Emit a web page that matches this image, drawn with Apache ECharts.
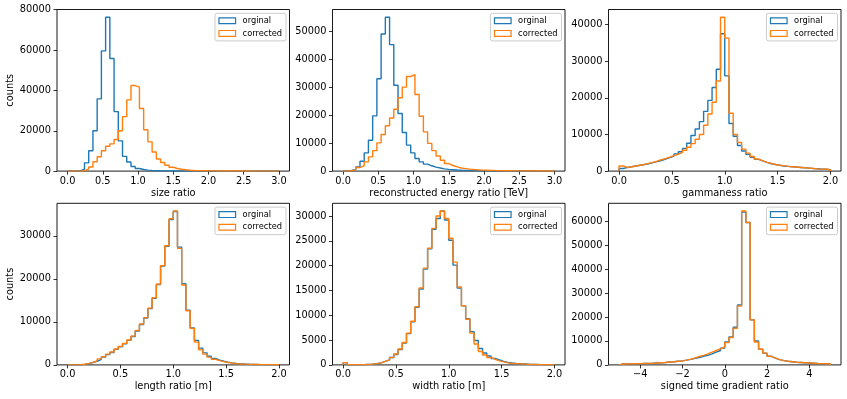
<!DOCTYPE html>
<html><head><meta charset="utf-8">
<script src="https://cdn.jsdelivr.net/npm/echarts@6/dist/echarts.min.js"></script>
<style>html,body{margin:0;padding:0;background:#fff}#c{width:847px;height:399px}</style>
</head><body><div id="c"></div>
<script>
const seriesNames = ['orginal', 'corrected'];
const seriesColors = ['#1f77b4', '#ff7f0e'];

// size ratio
const sizeRange = [0, 3];
const sizeOrig = [0,0,150,1000,4100,10100,20000,35800,59600,76300,55800,29500,15000,7300,4500,2300,1300,800,500,350,250,180,130,100,80,60,50,40,30,25,20,15,12,10,8,6,5,4,3,3,2,2,1,1,1,1,0,0,0,0];
const sizeCorr = [0,0,0,200,1000,2000,4600,7100,10100,12300,13500,15700,20000,27000,35300,42400,41600,31000,20500,14500,9500,6000,4300,2900,1900,1300,900,650,450,330,250,190,150,110,90,70,55,45,35,28,22,18,14,11,9,7,5,4,3,2];
const sizeXTicks = [0, 0.5, 1, 1.5, 2, 2.5, 3];
const sizeYTicks = [0, 20000, 40000, 60000, 80000];

// reconstructed energy ratio
const energyRange = [0, 3];
const energyOrig = [0,200,600,1500,3500,6500,11000,19750,33000,49000,55000,45200,30700,20600,13800,9300,6500,4500,3300,2500,1900,1400,1100,800,600,500,400,320,260,210,170,140,110,90,75,60,50,40,32,26,21,17,14,11,9,7,6,5,4,3];
const energyCorr = [0,100,500,1300,1900,3300,5100,7300,10100,13100,16200,19000,22100,26200,30000,33800,34500,27400,19600,14000,9900,7300,5400,3900,2700,2000,1500,1100,900,700,550,450,350,300,250,200,170,140,120,100,85,70,60,50,42,35,30,25,20,16];
const energyXTicks = [0, 0.5, 1, 1.5, 2, 2.5, 3];
const energyYTicks = [0, 10000, 20000, 30000, 40000, 50000];

// gammaness ratio
const gammaRange = [0, 2];
const gammaOrig = [700,1000,1200,1400,1600,1800,2000,2300,2600,2900,3300,3700,4100,4700,5300,6200,7600,9700,11500,13500,16300,19300,22800,27800,37500,26000,13000,9500,7000,5500,4600,3800,3200,2800,2400,2000,1800,1600,1400,1300,1200,1100,1000,900,800,700,650,550,500,400];
const gammaCorr = [1400,1000,1200,1400,1600,1800,2100,2400,2700,3100,3400,3800,4200,4600,5100,5700,6500,7500,8700,10000,12500,15600,18800,24600,42000,36300,15800,10000,7800,6000,4900,4000,3300,2800,2400,2100,1800,1600,1500,1300,1200,1100,1000,900,800,700,600,550,500,400];
const gammaXTicks = [0, 0.5, 1, 1.5, 2];
const gammaYTicks = [0, 10000, 20000, 30000, 40000];

// length ratio
const lengthRange = [0, 2];
const lengthOrig = [0,0,40,130,280,550,850,1300,1800,2400,2900,3600,4200,4900,5700,6600,7900,9400,10900,13100,15500,18700,23000,27600,33800,35700,27400,18900,12700,8600,5700,3900,2800,2000,1500,1100,850,650,480,360,270,200,150,110,85,65,50,38,28,20];
const lengthCorr = [0,0,50,150,300,600,900,1400,1900,2500,3000,3700,4300,5000,5800,6700,8000,9500,11000,13200,15600,18800,23100,27700,34000,35800,27100,18600,12600,8500,5300,3500,2500,1800,1300,1000,750,550,400,300,220,170,130,100,80,60,45,35,25,20];
const lengthXTicks = [0, 0.5, 1, 1.5, 2];
const lengthYTicks = [0, 10000, 20000, 30000];

// width ratio
const widthRange = [0, 2];
const widthOrig = [450,30,20,30,50,100,150,250,400,700,1000,1500,2100,3100,4400,6300,8700,11600,15300,19300,23400,27300,29500,31000,29200,25100,20100,15500,11900,9300,6700,4900,3300,2400,1800,1300,1000,700,500,380,290,220,170,120,90,70,50,35,25,12];
const widthCorr = [450,30,20,30,50,100,150,250,400,700,1000,1500,2200,3200,4500,6400,8800,11700,15500,19500,23500,27500,30000,31000,29500,25500,20700,15700,11900,9200,6400,4200,2700,2000,1500,1100,800,600,400,300,250,200,150,100,80,60,40,30,20,10];
const widthXTicks = [0, 0.5, 1, 1.5, 2];
const widthYTicks = [0, 5000, 10000, 15000, 20000, 25000, 30000];

// signed time gradient ratio
const tgradRange = [-5, 5];
const tgradOrig = [350,400,450,500,550,600,650,700,800,900,1000,1200,1300,1500,1700,2000,2300,2700,3100,3600,4000,4600,5300,6000,7000,9600,11700,15700,25000,63800,59400,18800,10000,6500,4900,3600,2800,2200,1800,1500,1300,1100,1000,900,800,700,600,550,500,400];
const tgradCorr = [350,400,450,500,550,600,650,700,800,900,1000,1200,1300,1500,1700,2000,2400,2900,3500,4000,4600,5300,6000,6700,7500,9300,11400,15300,24600,64200,59400,18800,9500,6500,4900,3600,2800,2200,1800,1500,1300,1100,1000,900,800,700,600,550,500,400];
const tgradXTicks = [-4, -2, 0, 2, 4];
const tgradYTicks = [0, 10000, 20000, 30000, 40000, 50000, 60000];

const xLabels = ['size ratio', 'reconstructed energy ratio [TeV]', 'gammaness ratio', 'length ratio [m]', 'width ratio [m]', 'signed time gradient ratio'];
const yLabel = 'counts';

const panels = [
  {range: sizeRange, orig: sizeOrig, corr: sizeCorr, xt: sizeXTicks, yt: sizeYTicks, dec: 1},
  {range: energyRange, orig: energyOrig, corr: energyCorr, xt: energyXTicks, yt: energyYTicks, dec: 1},
  {range: gammaRange, orig: gammaOrig, corr: gammaCorr, xt: gammaXTicks, yt: gammaYTicks, dec: 1},
  {range: lengthRange, orig: lengthOrig, corr: lengthCorr, xt: lengthXTicks, yt: lengthYTicks, dec: 1},
  {range: widthRange, orig: widthOrig, corr: widthCorr, xt: widthXTicks, yt: widthYTicks, dec: 1},
  {range: tgradRange, orig: tgradOrig, corr: tgradCorr, xt: tgradXTicks, yt: tgradYTicks, dec: 0}
];

const FONT = 'DejaVu Sans';
const W = 847;
const colLefts = [57, 332.5, 608.5];
const colWidth = 232.5;
const rowTops = [9.5, 203.3];
const rowHeight = 161.6;

function stepPoints(range, vals) {
  const n = vals.length, w = (range[1] - range[0]) / n;
  const pts = [[range[0], 0]];
  for (let i = 0; i < n; i++) {
    const x0 = range[0] + i * w, x1 = range[0] + (i + 1) * w;
    pts.push([x0, vals[i]], [x1, vals[i]]);
  }
  pts.push([range[1], 0]);
  return pts;
}
function fmtX(v, dec) {
  const s = Math.abs(v).toFixed(dec);
  return (v < 0 ? '\u2212' : '') + s;
}

const grids = [], xAxes = [], yAxes = [], series = [], legends = [];
panels.forEach((p, i) => {
  const col = i % 3, row = Math.floor(i / 3);
  const left = colLefts[col], top = rowTops[row];
  grids.push({left: left, top: top, width: colWidth, height: rowHeight, show: true,
    borderColor: '#000', borderWidth: 0.9, backgroundColor: 'transparent', containLabel: false});
  const span = p.range[1] - p.range[0];
  const ymax = Math.max(...p.orig, ...p.corr) * 1.05;
  const labelStyle = {fontSize: 9.8, color: '#000', fontFamily: FONT};
  xAxes.push({type: 'value', gridIndex: i, min: p.range[0] - 0.05 * span, max: p.range[1] + 0.05 * span,
    axisLine: {show: false, onZero: false},
    axisTick: {show: true, length: 3.5, lineStyle: {color: '#000', width: 0.8}, customValues: p.xt},
    axisLabel: Object.assign({customValues: p.xt, margin: 5, formatter: v => fmtX(v, p.dec)}, labelStyle),
    splitLine: {show: false},
    name: xLabels[i], nameLocation: 'middle', nameGap: 17,
    nameTextStyle: {fontSize: 9.8, color: '#000', fontFamily: FONT}});
  yAxes.push({type: 'value', gridIndex: i, min: 0, max: ymax,
    axisLine: {show: false, onZero: false},
    axisTick: {show: true, length: 3.5, lineStyle: {color: '#000', width: 0.8}, customValues: p.yt},
    axisLabel: Object.assign({customValues: p.yt, margin: 6, formatter: v => String(v)}, labelStyle),
    splitLine: {show: false},
    name: col === 0 ? yLabel : '', nameLocation: 'middle', nameGap: 41, nameRotate: 90,
    nameTextStyle: {fontSize: 9.8, color: '#000', fontFamily: FONT}});
  [p.orig, p.corr].forEach((vals, k) => {
    series.push({type: 'line', name: seriesNames[k], xAxisIndex: i, yAxisIndex: i,
      data: stepPoints(p.range, vals), showSymbol: false, symbol: 'none', animation: false,
      lineStyle: {color: seriesColors[k], width: 1.4}, itemStyle: {color: seriesColors[k]},
      z: 2 + k, silent: true});
  });
  legends.push({orient: 'vertical', right: W - (left + colWidth) + 3.5, top: top + 3.8,
    itemWidth: 16.6, itemHeight: 5.8, itemGap: 3.6, padding: [3, 4, 3, 3.4],
    borderColor: '#cccccc', borderWidth: 1, borderRadius: 2, backgroundColor: 'rgba(255,255,255,0.8)',
    selectedMode: false, icon: 'rect',
    textStyle: {fontSize: 8.3, fontFamily: FONT, color: '#000', lineHeight: 9, padding: [0, 0, 0, 2]},
    data: seriesNames.map((n, k) => ({name: n, icon: 'rect',
      itemStyle: {color: 'rgba(0,0,0,0)', borderColor: seriesColors[k], borderWidth: 1.2}}))});
});

const chart = echarts.init(document.getElementById('c'), null, {renderer: 'canvas'});
chart.setOption({animation: false, backgroundColor: '#fff', grid: grids, xAxis: xAxes, yAxis: yAxes, series: series, legend: legends});
</script>
</body></html>
